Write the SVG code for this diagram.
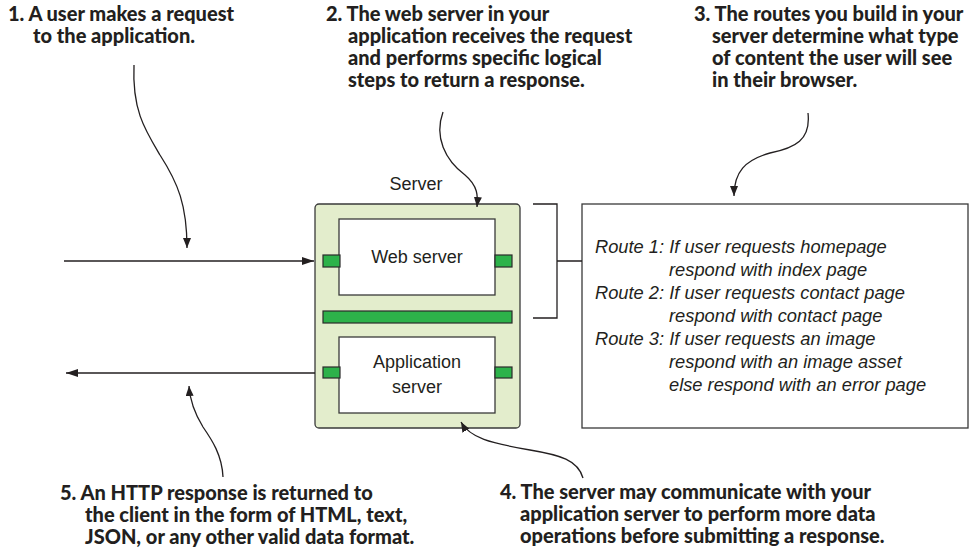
<svg xmlns="http://www.w3.org/2000/svg" width="976" height="557" viewBox="0 0 976 557">
<style>
.note{font-family:Lato,"Open Sans","DejaVu Sans",sans-serif;font-weight:900;font-size:20px;fill:#231f20}
.lbl{font-family:"Liberation Sans",Arial,sans-serif;font-size:18px;fill:#231f20}
.route{font-family:"Liberation Sans",Arial,sans-serif;font-size:18.3px;font-style:italic;fill:#231f20}
.ln{fill:none;stroke:#231f20;stroke-width:1.3}
.box{fill:#fff;stroke:#3a3a3a;stroke-width:1.3}
.grn{fill:#2db24a;stroke:#2a2a2a;stroke-width:1.2}
</style>
<defs>
<marker id="ah" viewBox="0 0 12 8" refX="12" refY="4" markerWidth="12" markerHeight="8" markerUnits="userSpaceOnUse" orient="auto">
<path d="M0,0 L12,4 L0,8 z" fill="#231f20"/>
</marker>
<marker id="ahs" viewBox="0 0 10 8" refX="10" refY="4" markerWidth="10" markerHeight="8" markerUnits="userSpaceOnUse" orient="auto">
<path d="M0,0 L10,4 L0,8 z" fill="#231f20"/>
</marker>
</defs>

<g id="server">
<text class="lbl" x="416" y="190" text-anchor="middle">Server</text>
<rect x="315" y="204" width="205" height="224" rx="4" fill="#e3edcc" stroke="#3a3a3a" stroke-width="1.3"/>
</g>
<g id="web-server">
<rect class="box" x="339" y="219" width="156" height="76"/>
<rect class="grn" x="323" y="255" width="17" height="12"/>
<rect class="grn" x="495" y="255" width="17" height="12"/>
<text class="lbl" x="417" y="263" text-anchor="middle">Web server</text>
</g>
<g id="bus">
<rect class="grn" x="323" y="311" width="189" height="12"/>
</g>
<g id="app-server">
<rect class="box" x="339" y="337" width="156" height="76"/>
<rect class="grn" x="323" y="367" width="17" height="11"/>
<rect class="grn" x="495" y="367" width="17" height="11"/>
<text class="lbl" x="417" y="368" text-anchor="middle">Application</text>
<text class="lbl" x="417" y="393" text-anchor="middle">server</text>
</g>
<g id="routes">
<rect x="582" y="204" width="386" height="224" fill="#fff" stroke="#3a3a3a" stroke-width="1.3"/>
<text class="route" x="595" y="253">Route 1: If user requests homepage</text>
<text class="route" x="669" y="276">respond with index page</text>
<text class="route" x="595" y="299">Route 2: If user requests contact page</text>
<text class="route" x="669" y="322">respond with contact page</text>
<text class="route" x="595" y="345">Route 3: If user requests an image</text>
<text class="route" x="669" y="368">respond with an image asset</text>
<text class="route" x="669" y="391">else respond with an error page</text>
</g>

<g id="note1">
<text class="note" x="8" y="21">1. A user makes a request</text>
<text class="note" x="33" y="43">to the application.</text>
</g>
<g id="note2">
<text class="note" x="326" y="21">2. The web server in your</text>
<text class="note" x="348" y="43">application receives the request</text>
<text class="note" x="348" y="65">and performs specific logical</text>
<text class="note" x="348" y="87">steps to return a response.</text>
</g>
<g id="note3">
<text class="note" x="694" y="21">3. The routes you build in your</text>
<text class="note" x="712" y="43">server determine what type</text>
<text class="note" x="712" y="65">of content the user will see</text>
<text class="note" x="712" y="87">in their browser.</text>
</g>
<g id="note4">
<text class="note" x="500" y="499">4. The server may communicate with your</text>
<text class="note" x="520" y="521">application server to perform more data</text>
<text class="note" x="520" y="543">operations before submitting a response.</text>
</g>
<g id="note5">
<text class="note" x="60" y="500">5. An HTTP response is returned to</text>
<text class="note" x="85" y="522">the client in the form of HTML, text,</text>
<text class="note" x="85" y="544">JSON, or any other valid data format.</text>
</g>

<g id="connectors">
<line class="ln" x1="64" y1="261" x2="314" y2="261" marker-end="url(#ah)"/>
<line class="ln" x1="315" y1="373" x2="66" y2="373" marker-end="url(#ah)"/>
<path class="ln" d="M533,204 H557 V318 H533 M557,261 H582"/>
<path class="ln" d="M134,65 C132,110 145,130 160,155 C178,183 187,205 187,248" marker-end="url(#ahs)"/>
<path class="ln" d="M443,112 C434,137 445,160 465,175 C478,186 478,196 477,207" marker-end="url(#ahs)"/>
<path class="ln" d="M808,113 C811,140 795,148 770,153 C745,160 734,172 734,196" marker-end="url(#ahs)"/>
<path class="ln" d="M583,478 C578,460 560,455 530,450 C490,443 470,438 461,422" marker-end="url(#ahs)"/>
<path class="ln" d="M223,477 C222,455 212,440 203,427 C195,414 190,402 189,386" marker-end="url(#ahs)"/>
</g>
</svg>
